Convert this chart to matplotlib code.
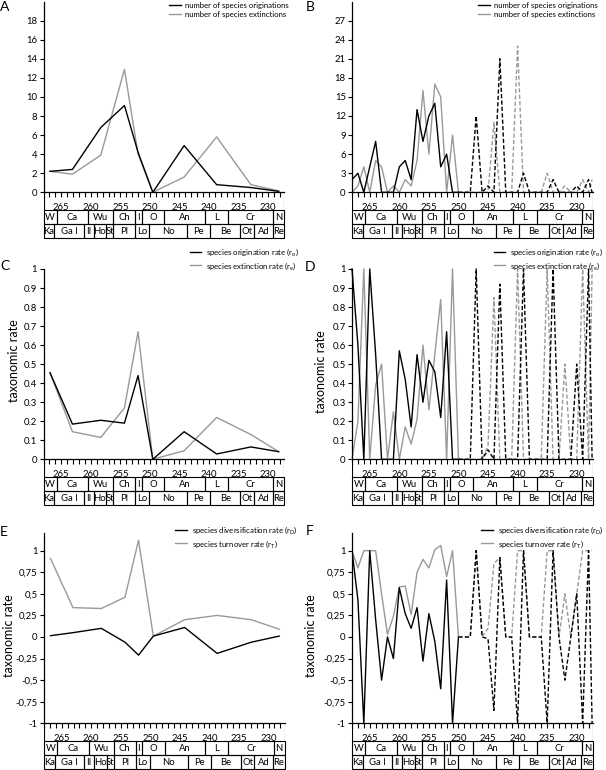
import numpy as np
import matplotlib
matplotlib.use('Agg')
import matplotlib.pyplot as plt
from matplotlib.patches import Rectangle
from matplotlib.ticker import FixedLocator, MultipleLocator, FuncFormatter

plt.rcParams['font.family'] = ['Lato', 'DejaVu Sans']

# time scale (Ma)
stage_names = ['W', 'Ca', 'Wu', 'Ch', 'I', 'O', 'An', 'L', 'Cr', 'N']
stage_bounds = [268.0, 265.8, 260.4, 256.2, 252.5, 251.4, 247.6, 240.7, 236.8, 229.1, 227.3]
zone_names = ['Ka', 'Ga I', 'II', 'Ho', 'St', 'Pl', 'Lo', 'No', 'Pe', 'Be', 'Ot', 'Ad', 'Re']
zone_bounds = [268.0, 266.2, 261.2, 259.5, 257.4, 256.2, 252.5, 250.1, 243.7, 239.75, 234.7, 232.4, 229.2, 227.3]
age_ticks = [265, 260, 255, 250, 245, 240, 235, 230]

# stage-level series (A, C, E)
stage_age = [266.9, 263.1, 258.3, 254.3, 252.0, 249.5, 244.2, 238.7, 232.9, 228.2]
n_orig = [2.2, 2.4, 6.8, 9.1, 4.2, 0, 4.9, 0.8, 0.5, 0.1]
n_ext = [2.2, 1.9, 3.9, 12.9, 4.0, 0, 1.6, 5.8, 0.8, 0.15]
r_orig = [0.455, 0.185, 0.205, 0.19, 0.44, 0, 0.145, 0.028, 0.065, 0.04]
r_ext = [0.455, 0.145, 0.115, 0.27, 0.67, 0, 0.045, 0.22, 0.13, 0.04]
r_div = [0.015, 0.05, 0.1, -0.06, -0.21, 0.01, 0.11, -0.19, -0.06, 0.01]
r_turn = [0.91, 0.34, 0.33, 0.46, 1.12, 0.01, 0.2, 0.25, 0.2, 0.09]

# 1-Myr series (B, D, F): Permian part (solid) and Triassic part (dashed)
myr_p = [268, 267, 266, 265, 264, 263, 262, 261, 260, 259, 258, 257, 256, 255, 254, 253, 252, 251, 250]
myr_t = [250, 249, 248, 247, 246, 245, 244, 243, 242, 241, 240, 239, 238, 237, 236, 235, 234, 233,
         232, 231, 230, 229, 228, 227.4]

nb_orig_p = [2, 3, 0, 4, 8, 0, 0, 0, 4, 5, 2, 13, 8, 12, 14, 4, 6, 0, 0]
nb_ext_p = [0, 1, 4, 0, 5, 4, 0, 1, 0, 2, 1, 5, 16, 6, 17, 15, 0, 9, 0]
nb_orig_t = [0, 0, 0, 12, 0, 1, 0, 21, 0, 0, 0, 3, 0, 0, 0, 0, 2, 0, 0, 0, 1, 0, 2, 0]
nb_ext_t = [0, 0, 0, 0, 0, 0, 11, 0, 0, 0, 23, 0, 0, 0, 0, 3, 0, 0, 1, 0, 0, 2, 0, 2]

rb_orig_p = [1.0, 0.6, 0, 1.0, 0.55, 0, 0, 0, 0.57, 0.42, 0.17, 0.55, 0.3, 0.52, 0.46, 0.22, 0.67, 0, 0]
rb_ext_p = [0, 0.2, 1.0, 0, 0.39, 0.5, 0, 0.25, 0, 0.17, 0.08, 0.21, 0.6, 0.26, 0.55, 0.84, 0, 1.0, 0]
rb_orig_t = [0, 0, 0, 1.0, 0, 0.05, 0, 0.92, 0, 0, 0, 1.0, 0, 0, 0, 0, 1.0, 0, 0, 0, 0.5, 0, 1.0, 0]
rb_ext_t = [0, 0, 0, 0, 0, 0.07, 0.85, 0, 0, 0, 1.0, 0, 0, 0, 0, 1.0, 0, 0, 0.5, 0, 0, 1.0, 0, 1.0]

rb_div_p = [1, 0.43, -1, 1, 0.2, -0.5, 0, -0.25, 0.57, 0.27, 0.1, 0.34, -0.28, 0.27, -0.05, -0.6, 0.66, -1, 0]
rb_turn_p = [1, 0.8, 1, 1, 1, 0.5, 0.03, 0.24, 0.58, 0.59, 0.26, 0.75, 0.9, 0.8, 1.01, 1.06, 0.7, 1, 0]
rb_div_t = [0, 0, 0, 1, 0, -0.02, -0.85, 0.92, 0, 0, -1, 1, 0, 0, 0, -1, 1, 0, -0.5, 0, 0.5, -1, 1, -1]
rb_turn_t = [0, 0, 0, 1, 0, 0.1, 0.85, 0.92, 0, 0, 1, 1, 0, 0, 0, 1, 1, 0, 0.5, 0, 0.5, 1, 1, 1]

W, H = 606, 770
XLIM = (268, 227.3)
GREY = '#999999'
DASH = (0, (3, 1.6))

fig = plt.figure(figsize=(W / 100, H / 100), dpi=100)


def px_axes(x0, y0, x1, y1):
    return fig.add_axes([x0 / W, 1 - y1 / H, (x1 - x0) / W, (y1 - y0) / H])


def timescale(x0, x1, ytop):
    tax = px_axes(x0, ytop, x1, ytop + 46)
    tax.set_xlim(*XLIM)
    tax.set_ylim(0, 3.3)
    tax.axis('off')
    for names, bounds, y in ((stage_names, stage_bounds, 1), (zone_names, zone_bounds, 0)):
        for name, b0, b1 in zip(names, bounds[:-1], bounds[1:]):
            tax.add_patch(Rectangle((b1, y), b0 - b1, 1, fill=False, lw=0.8, ec='black', clip_on=False))
            tax.text((b0 + b1) / 2, y + 0.48, name, ha='center', va='center', fontsize=6.8)
    tax.vlines(list(XLIM), 2, 3.3, color='black', lw=0.8)


def panel(x0, x1, ytop, yzero, ylim, yticks, fmt, letter, lx, ly):
    ax = px_axes(x0, ytop, x1, yzero)
    ax.set_xlim(*XLIM)
    ax.set_ylim(*ylim)
    for s in ('top', 'right'):
        ax.spines[s].set_visible(False)
    for s in ('left', 'bottom'):
        ax.spines[s].set_linewidth(0.9)
    ax.xaxis.set_major_locator(FixedLocator(age_ticks))
    ax.xaxis.set_minor_locator(MultipleLocator(1))
    ax.yaxis.set_major_locator(FixedLocator(yticks))
    ax.yaxis.set_major_formatter(FuncFormatter(fmt))
    ax.tick_params(axis='x', which='both', direction='out', length=3.5, width=0.8, labelsize=6.8, pad=4.5)
    ax.tick_params(axis='y', direction='out', length=3, width=0.8, labelsize=6.8, pad=1.5)
    timescale(x0, x1, yzero)
    fig.text(lx / W, 1 - ly / H, letter, fontsize=10, ha='center', va='center')
    return ax


def legend(ax, handles, right, top):
    ax.legend(handles=handles, loc='upper right', bbox_to_anchor=(right / W, 1 - top / H),
              bbox_transform=fig.transFigure, frameon=False, fontsize=5.6, handlelength=1.5,
              handletextpad=0.6, labelspacing=0.2, borderpad=0, borderaxespad=0)


def ylabel(x, y):
    fig.text(x / W, 1 - y / H, 'taxonomic rate', rotation=90, ha='center', va='center', fontsize=9)


fmt_int = lambda v, p: f'{v:g}'
fmt_dot = lambda v, p: f'{v:g}'
fmt_comma = lambda v, p: f'{v:g}'.replace('.', ',')
rate_ticks = [round(0.1 * i, 1) for i in range(11)]
div_ticks = [-1, -0.75, -0.5, -0.25, 0, 0.25, 0.5, 0.75, 1]

# A
ax = panel(43.5, 284, 1.6, 192.3, (0, 20), list(range(0, 19, 2)), fmt_int, 'A', 5, 7)
lg, = ax.plot(stage_age, n_ext, color=GREY, lw=1, label='number of species extinctions')
lb, = ax.plot(stage_age, n_orig, color='black', lw=1, label='number of species originations')
legend(ax, [lb, lg], 289, 2)

# B
ax = panel(352, 592.7, 1.5, 192.3, (0, 30), list(range(0, 28, 3)), fmt_int, 'B', 310.5, 7)
lg, = ax.plot(myr_p, nb_ext_p, color=GREY, lw=1, label='number of species extinctions')
lb, = ax.plot(myr_p, nb_orig_p, color='black', lw=1, label='number of species originations')
ax.plot(myr_t, nb_ext_t, color=GREY, lw=1, ls=DASH)
ax.plot(myr_t, nb_orig_t, color='black', lw=1, ls=DASH)
legend(ax, [lb, lg], 598, 2)

# C
ax = panel(43.5, 284, 269, 459.3, (0, 1), rate_ticks, fmt_dot, 'C', 5, 266.5)
lg, = ax.plot(stage_age, r_ext, color=GREY, lw=1, label=r'species extinction rate (r$_\mathregular{e}$)')
lb, = ax.plot(stage_age, r_orig, color='black', lw=1, label=r'species origination rate (r$_\mathregular{o}$)')
legend(ax, [lb, lg], 299, 246)
ylabel(14, 361)

# D
ax = panel(352, 592.7, 269, 459.3, (0, 1), rate_ticks, fmt_dot, 'D', 310.5, 267)
lg, = ax.plot(myr_p, rb_ext_p, color=GREY, lw=1, clip_on=False, label=r'species extinction rate (r$_\mathregular{e}$)')
lb, = ax.plot(myr_p, rb_orig_p, color='black', lw=1, clip_on=False, label=r'species origination rate (r$_\mathregular{o}$)')
ax.plot(myr_t, rb_ext_t, color=GREY, lw=1, ls=DASH, clip_on=False)
ax.plot(myr_t, rb_orig_t, color='black', lw=1, ls=DASH, clip_on=False)
legend(ax, [lb, lg], 603, 246)
ylabel(321, 372)

# E
ax = panel(44, 284.5, 533.4, 723.3, (-1, 1.2), div_ticks, fmt_comma, 'E', 4, 531.5)
lg, = ax.plot(stage_age, r_turn, color=GREY, lw=1, label=r'species turnover rate (r$_\mathregular{T}$)')
lb, = ax.plot(stage_age, r_div, color='black', lw=1, label=r'species diversification rate (r$_\mathregular{D}$)')
legend(ax, [lb, lg], 297, 524)
ylabel(9.5, 636)

# F
ax = panel(352, 592.7, 533.4, 723.3, (-1, 1.2), div_ticks, fmt_comma, 'F', 310, 531)
lg, = ax.plot(myr_p, rb_turn_p, color=GREY, lw=1, label=r'species turnover rate (r$_\mathregular{T}$)')
lb, = ax.plot(myr_p, rb_div_p, color='black', lw=1, label=r'species diversification rate (r$_\mathregular{D}$)')
ax.plot(myr_t, rb_turn_t, color=GREY, lw=1, ls=DASH)
ax.plot(myr_t, rb_div_t, color='black', lw=1, ls=DASH)
legend(ax, [lb, lg], 603, 524)
ylabel(311, 636)

fig.savefig('out.png', dpi=100)
